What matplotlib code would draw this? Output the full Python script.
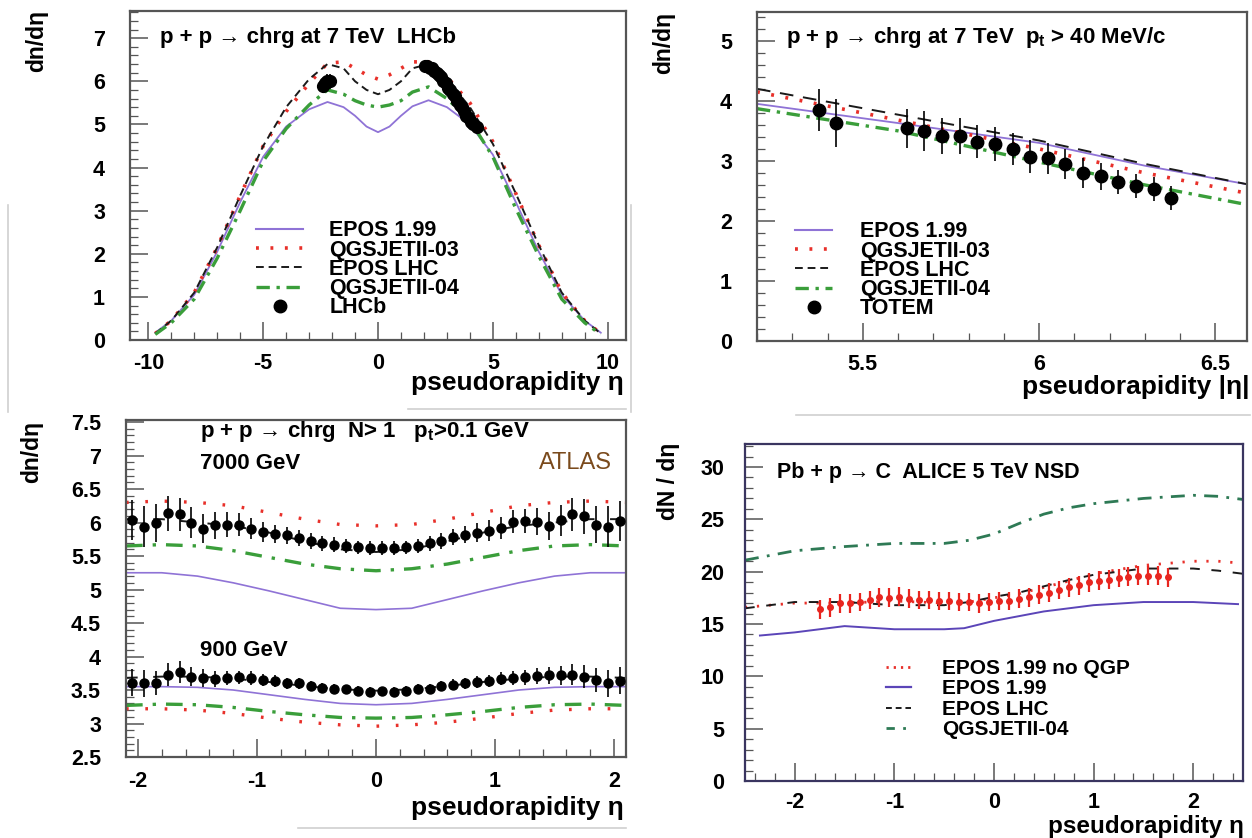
import matplotlib
matplotlib.use("Agg")
import matplotlib.pyplot as plt
import numpy as np
from matplotlib.ticker import MultipleLocator, FuncFormatter
from matplotlib.lines import Line2D

plt.rcParams['font.family'] = ['Liberation Sans', 'DejaVu Sans']
plt.rcParams['font.weight'] = 'bold'
plt.rcParams['axes.unicode_minus'] = False
plt.rcParams['mathtext.fontset'] = 'custom'
plt.rcParams['mathtext.rm'] = 'Liberation Sans:bold'
plt.rcParams['mathtext.it'] = 'Liberation Sans:bold'
plt.rcParams['mathtext.bf'] = 'Liberation Sans:bold'

# ---- panel 1: LHCb 7 TeV ----
eta1 = [-9.7, -9, -8, -7, -6, -5, -4, -3, -2.2, -1.5, -1, -0.5, 0,
        0.5, 1, 1.5, 2.2, 3, 4, 5, 6, 7, 8, 9, 9.7]
epos199_1 = [0.17, 0.45, 1.05, 2.05, 3.2, 4.25, 4.95, 5.35, 5.52, 5.4, 5.2, 4.95, 4.82,
             4.95, 5.2, 5.42, 5.56, 5.4, 5.0, 4.3, 3.2, 2.05, 1.05, 0.45, 0.17]
qgs03_1 = [0.15, 0.45, 1.1, 2.15, 3.35, 4.5, 5.3, 5.95, 6.42, 6.45, 6.3, 6.15, 6.05,
           6.15, 6.3, 6.45, 6.45, 6.1, 5.5, 4.6, 3.4, 2.2, 1.1, 0.45, 0.15]
eposlhc_1 = [0.15, 0.45, 1.1, 2.15, 3.35, 4.5, 5.4, 6.05, 6.4, 6.3, 6.0, 5.8, 5.7,
             5.8, 6.0, 6.3, 6.4, 6.05, 5.4, 4.55, 3.4, 2.2, 1.1, 0.45, 0.15]
qgs04_1 = [0.13, 0.4, 0.95, 1.9, 3.0, 4.15, 4.9, 5.45, 5.8, 5.7, 5.55, 5.45, 5.4,
           5.45, 5.55, 5.75, 5.87, 5.6, 5.1, 4.25, 3.05, 1.95, 0.95, 0.4, 0.13]
lhcb_eta = [-2.4, -2.3, -2.2, -2.1, 2.05, 2.15, 2.25, 2.35, 2.45, 2.55, 2.65, 2.75, 2.85,
            2.95, 3.05, 3.15, 3.25, 3.35, 3.45, 3.55, 3.65, 3.75, 3.85, 3.95, 4.05, 4.15, 4.3]
lhcb_val = [5.9, 5.95, 6.0, 6.0, 6.35, 6.35, 6.3, 6.3, 6.25, 6.2, 6.15, 6.1, 6.0,
            5.95, 5.85, 5.8, 5.7, 5.65, 5.55, 5.45, 5.4, 5.3, 5.2, 5.15, 5.05, 5.0, 4.95]
lhcb_err = [0.18] * 4 + [0.15] * 23

# ---- panel 2: TOTEM ----
eta2 = [5.2, 5.6, 6.0, 6.3, 6.6]
epos199_2 = [3.95, 3.63, 3.3, 2.92, 2.6]
qgs03_2 = [4.15, 3.68, 3.2, 2.8, 2.45]
eposlhc_2 = [4.2, 3.77, 3.34, 2.95, 2.6]
qgs04_2 = [3.87, 3.5, 2.98, 2.6, 2.26]
totem_eta = [5.375, 5.425, 5.625, 5.675, 5.725, 5.775, 5.825, 5.875, 5.925,
             5.975, 6.025, 6.075, 6.125, 6.175, 6.225, 6.275, 6.325, 6.375]
totem_val = [3.85, 3.63, 3.54, 3.5, 3.41, 3.42, 3.32, 3.28, 3.2,
             3.07, 3.04, 2.95, 2.8, 2.74, 2.65, 2.58, 2.53, 2.39]
totem_err = [0.35, 0.4, 0.33, 0.33, 0.3, 0.3, 0.28, 0.28, 0.27,
             0.27, 0.26, 0.25, 0.25, 0.22, 0.2, 0.2, 0.2, 0.2]

# ---- panel 3: ATLAS 7000 / 900 GeV ----
eta3 = [-2.1, -1.8, -1.5, -1.2, -0.9, -0.6, -0.3, 0, 0.3, 0.6, 0.9, 1.2, 1.5, 1.8, 2.1]
epos199_7000 = [5.25, 5.25, 5.2, 5.1, 4.98, 4.85, 4.72, 4.7, 4.72, 4.85, 4.98, 5.1, 5.2, 5.25, 5.25]
qgs04_7000 = [5.65, 5.67, 5.65, 5.58, 5.48, 5.38, 5.31, 5.28, 5.31, 5.38, 5.48, 5.58, 5.65, 5.67, 5.65]
qgs03_7000 = [6.3, 6.32, 6.3, 6.25, 6.15, 6.05, 5.97, 5.95, 5.97, 6.05, 6.15, 6.25, 6.3, 6.32, 6.3]
eposlhc_7000 = [6.05, 6.05, 6.0, 5.95, 5.85, 5.72, 5.6, 5.56, 5.6, 5.72, 5.85, 5.95, 6.0, 6.05, 6.05]
epos199_900 = [3.55, 3.55, 3.54, 3.5, 3.43, 3.36, 3.3, 3.28, 3.3, 3.36, 3.43, 3.5, 3.54, 3.55, 3.55]
qgs04_900 = [3.27, 3.29, 3.28, 3.24, 3.18, 3.13, 3.09, 3.08, 3.09, 3.13, 3.18, 3.24, 3.28, 3.29, 3.27]
qgs03_900 = [3.22, 3.22, 3.2, 3.15, 3.08, 3.02, 2.98, 2.96, 2.98, 3.02, 3.08, 3.15, 3.2, 3.22, 3.22]
eposlhc_900 = [3.68, 3.7, 3.7, 3.67, 3.62, 3.56, 3.51, 3.49, 3.51, 3.56, 3.62, 3.67, 3.7, 3.7, 3.68]
atlas_eta = [-2.05, -1.95, -1.85, -1.75, -1.65, -1.55, -1.45, -1.35, -1.25, -1.15, -1.05,
             -0.95, -0.85, -0.75, -0.65, -0.55, -0.45, -0.35, -0.25, -0.15, -0.05,
             0.05, 0.15, 0.25, 0.35, 0.45, 0.55, 0.65, 0.75, 0.85, 0.95,
             1.05, 1.15, 1.25, 1.35, 1.45, 1.55, 1.65, 1.75, 1.85, 1.95, 2.05]
atlas_7000 = [6.04, 5.94, 5.99, 6.14, 6.12, 6.0, 5.91, 5.96, 5.97, 5.97, 5.91,
              5.86, 5.83, 5.81, 5.77, 5.73, 5.69, 5.67, 5.65, 5.63, 5.62,
              5.62, 5.62, 5.63, 5.65, 5.69, 5.73, 5.78, 5.82, 5.85, 5.88,
              5.92, 6.01, 6.02, 6.01, 5.95, 6.03, 6.12, 6.09, 5.97, 5.94, 6.02]
atlas_7000_err = [0.3, 0.3, 0.28, 0.26, 0.25, 0.23, 0.21, 0.2, 0.18, 0.17, 0.16,
                  0.15, 0.14, 0.13, 0.12, 0.12, 0.11, 0.11, 0.1, 0.1, 0.1,
                  0.1, 0.1, 0.1, 0.11, 0.11, 0.12, 0.12, 0.13, 0.14, 0.15,
                  0.16, 0.17, 0.18, 0.2, 0.21, 0.23, 0.25, 0.26, 0.28, 0.3, 0.3]
atlas_900 = [3.61, 3.6, 3.61, 3.73, 3.77, 3.7, 3.68, 3.67, 3.68, 3.69, 3.68,
             3.65, 3.63, 3.6, 3.6, 3.56, 3.53, 3.52, 3.51, 3.49, 3.47,
             3.48, 3.47, 3.49, 3.52, 3.52, 3.56, 3.58, 3.6, 3.62, 3.63,
             3.67, 3.68, 3.69, 3.71, 3.72, 3.72, 3.73, 3.7, 3.65, 3.6, 3.64]
atlas_900_err = [0.2, 0.2, 0.18, 0.17, 0.16, 0.14, 0.13, 0.12, 0.11, 0.1, 0.1,
                 0.09, 0.09, 0.08, 0.08, 0.08, 0.07, 0.07, 0.07, 0.07, 0.07,
                 0.07, 0.07, 0.07, 0.07, 0.07, 0.08, 0.08, 0.08, 0.09, 0.09,
                 0.1, 0.1, 0.11, 0.12, 0.13, 0.14, 0.16, 0.17, 0.18, 0.2, 0.2]

# ---- panel 4: ALICE p-Pb 5 TeV ----
eta4 = [-2.5, -2.0, -1.5, -1.0, -0.5, -0.25, 0, 0.25, 0.5, 0.75, 1.0, 1.5, 2.0, 2.25, 2.5]
noqgp_4 = [16.6, 17.0, 17.0, 17.2, 17.0, 17.1, 17.5, 17.9, 18.5, 19.1, 19.8, 20.6, 21.0, 21.0, 20.8]
eposlhc_4 = [16.5, 17.1, 17.1, 16.8, 16.8, 17.1, 17.6, 18.0, 18.6, 19.2, 19.7, 20.3, 20.3, 20.1, 19.8]
qgs04_4 = [21.1, 22.0, 22.4, 22.7, 22.7, 23.0, 23.6, 24.6, 25.5, 26.1, 26.5, 27.0, 27.3, 27.2, 26.9]
eta4_epos = [-2.35, -2.0, -1.5, -1.0, -0.5, -0.3, 0, 0.5, 1.0, 1.5, 2.0, 2.45]
epos199_4 = [13.9, 14.2, 14.8, 14.5, 14.5, 14.6, 15.3, 16.2, 16.8, 17.1, 17.1, 16.9]
alice_eta = [-1.75, -1.65, -1.55, -1.45, -1.35, -1.25, -1.15, -1.05, -0.95, -0.85, -0.75, -0.65,
             -0.55, -0.45, -0.35, -0.25, -0.15, -0.05, 0.05, 0.15, 0.25, 0.35, 0.45, 0.55,
             0.65, 0.75, 0.85, 0.95, 1.05, 1.15, 1.25, 1.35, 1.45, 1.55, 1.65, 1.75]
alice_val = [16.4, 16.6, 17.0, 17.0, 17.1, 17.3, 17.55, 17.5, 17.6, 17.4, 17.3, 17.3,
             17.2, 17.2, 17.1, 17.1, 17.0, 17.1, 17.2, 17.2, 17.4, 17.55, 17.8, 18.0,
             18.25, 18.5, 18.7, 19.0, 19.15, 19.25, 19.4, 19.5, 19.6, 19.6, 19.6, 19.45]
alice_err = [0.9] * 36

PURPLE = '#8f73d6'
RED = '#e8302a'
GREEN = '#3a9e3a'
BLACK = '#1a1a1a'
AXC = '#555555'

W, H = 1252, 838
fig = plt.figure(figsize=(W / 100, H / 100), dpi=100)


def add_ax(l, r, t, b):
    return fig.add_axes([l / W, 1 - b / H, (r - l) / W, (b - t) / H])


def ftext(x, y, s, **kw):
    # x, y in pixels from the top-left corner
    return fig.text(x / W, 1 - y / H, s, **kw)


fmt = FuncFormatter(lambda v, p: '%g' % v)


def style(ax, xmaj, xmin, ymaj, ymin, ypad=18, xpad=9, fs=15.5, frame=AXC):
    ax.xaxis.set_major_locator(MultipleLocator(xmaj))
    ax.xaxis.set_minor_locator(MultipleLocator(xmin))
    ax.yaxis.set_major_locator(MultipleLocator(ymaj))
    ax.yaxis.set_minor_locator(MultipleLocator(ymin))
    ax.xaxis.set_major_formatter(fmt)
    ax.yaxis.set_major_formatter(fmt)
    ax.tick_params(which='both', direction='in', top=False, right=False,
                   color=AXC, labelsize=fs)
    ax.tick_params(which='major', length=13, width=1.1)
    ax.tick_params(which='minor', length=6, width=0.9)
    ax.tick_params(axis='y', pad=ypad)
    ax.tick_params(axis='x', pad=xpad)
    for lab in ax.get_xticklabels() + ax.get_yticklabels():
        lab.set_fontweight('bold')
    for s in ax.spines.values():
        s.set_color(frame)
        s.set_linewidth(1.6)


def legend(ax, handles, labels, x, y, hl, htp, fs=15.5, sp=-0.08):
    leg = ax.legend(handles, labels, loc='upper left', bbox_to_anchor=(x, y),
                    frameon=False, borderpad=0, borderaxespad=0, handlelength=hl,
                    handletextpad=htp, labelspacing=sp, numpoints=1,
                    prop={'weight': 'bold', 'size': fs})
    return leg


def h(color, ls, lw, marker=None, ms=0):
    return Line2D([], [], color=color, ls=ls, lw=lw, marker=marker, ms=ms)


TFS = 16  # panel titles

# ================= panel 1 =================
ax1 = add_ax(130, 626, 11, 340)
ax1.plot(eta1, epos199_1, color=PURPLE, lw=1.3, ls='-')
ax1.plot(eta1, qgs03_1, color=RED, lw=2.6, ls=(0, (0.8, 3.2)))
ax1.plot(eta1, eposlhc_1, color=BLACK, lw=1.4, ls=(0, (4, 2.5)))
ax1.plot(eta1, qgs04_1, color=GREEN, lw=2.4, ls=(0, (4, 2, 1, 2)))
ax1.errorbar(lhcb_eta, lhcb_val, yerr=lhcb_err, fmt='o', color='black', ms=8.5,
             elinewidth=1.2, capsize=0, zorder=5)
ax1.set_xlim(-10.8, 10.8)
ax1.set_ylim(0, 7.63)
style(ax1, 5, 1, 1, 0.2)
ftext(160, 37, 'p + p \u2192 chrg at 7 TeV  LHCb', fontsize=TFS, fontweight='bold', va='center')
legend(ax1,
       [h(PURPLE, '-', 1.5), h(RED, (0, (0.8, 3.2)), 2.6), h(BLACK, (0, (4, 2.5)), 1.4),
        h(GREEN, (0, (4, 2, 1, 2)), 2.4), h('black', 'none', 0, 'o', 9)],
       ['EPOS 1.99', 'QGSJETII-03', 'EPOS LHC', 'QGSJETII-04', 'LHCb'],
       0.254, 0.364, 2.2, 1.2)

# ================= panel 2 =================
ax2 = add_ax(757, 1247, 12, 341)
ax2.plot(eta2, epos199_2, color=PURPLE, lw=1.3, ls='-')
ax2.plot(eta2, qgs03_2, color=RED, lw=2.6, ls=(0, (0.8, 3.2)))
ax2.plot(eta2, eposlhc_2, color=BLACK, lw=1.4, ls=(0, (7, 5)))
ax2.plot(eta2, qgs04_2, color=GREEN, lw=2.4, ls=(0, (4, 2, 1, 2)))
ax2.errorbar(totem_eta, totem_val, yerr=totem_err, fmt='o', color='black', ms=9,
             elinewidth=1.2, capsize=0, zorder=5)
ax2.set_xlim(5.2, 6.59)
ax2.set_ylim(0, 5.48)
style(ax2, 0.5, 0.1, 1, 0.2)
ftext(786, 37, 'p + p \u2192 chrg at 7 TeV  $p_t$ > 40 MeV/c', fontsize=TFS,
      fontweight='bold', va='center')
legend(ax2,
       [h(PURPLE, '-', 1.5), h(RED, (0, (0.8, 3.2)), 2.6), h(BLACK, (0, (4, 2.5)), 1.4),
        h(GREEN, (0, (4, 2, 1, 2)), 2.4), h('black', 'none', 0, 'o', 9)],
       ['EPOS 1.99', 'QGSJETII-03', 'EPOS LHC', 'QGSJETII-04', 'TOTEM'],
       0.078, 0.364, 1.7, 1.3)

# ================= panel 3 =================
ax3 = add_ax(126, 626, 420, 757)
for ys in (eposlhc_7000, eposlhc_900):
    ax3.plot(eta3, ys, color=BLACK, lw=1.4, ls=(0, (6, 8)))
for ys in (qgs03_7000, qgs03_900):
    ax3.plot(eta3, ys, color=RED, lw=2.4, ls=(0, (0.8, 5)))
for ys in (qgs04_7000, qgs04_900):
    ax3.plot(eta3, ys, color=GREEN, lw=2.4, ls=(0, (5, 3, 1, 3)))
for ys in (epos199_7000, epos199_900):
    ax3.plot(eta3, ys, color=PURPLE, lw=1.2, ls='-')
ax3.errorbar(atlas_eta, atlas_7000, yerr=atlas_7000_err, fmt='o', color='black', ms=6.5,
             elinewidth=1.2, capsize=0, zorder=5)
ax3.errorbar(atlas_eta, atlas_900, yerr=atlas_900_err, fmt='o', color='black', ms=6.5,
             elinewidth=1.2, capsize=0, zorder=5)
ax3.set_xlim(-2.1, 2.1)
ax3.set_ylim(2.5, 7.53)
style(ax3, 1, 0.2, 0.5, 0.1, xpad=10)
ftext(200, 431, 'p + p \u2192 chrg  N> 1   $p_t$>0.1 GeV', fontsize=TFS,
      fontweight='bold', va='center')
ftext(200, 463, '7000 GeV', fontsize=TFS, fontweight='bold', va='center')
ftext(200, 650, '900 GeV', fontsize=TFS, fontweight='bold', va='center')
ftext(612, 463, 'ATLAS', fontsize=17, fontweight='normal', va='center',
      ha='right', color='#7a4a1c')

# ================= panel 4 =================
ax4 = add_ax(745, 1243, 444, 781)
DGREEN = '#2e7a55'
DPURPLE = '#5b45b8'
ax4.plot(eta4, noqgp_4, color=RED, lw=2.0, ls=(0, (0.8, 3.5)))
ax4.plot(eta4, eposlhc_4, color=BLACK, lw=1.4, ls=(0, (5, 6)))
ax4.plot(eta4_epos, epos199_4, color=DPURPLE, lw=1.4, ls='-')
ax4.plot(eta4, qgs04_4, color=DGREEN, lw=2.0, ls=(0, (5, 3, 1, 3)))
ax4.errorbar(alice_eta, alice_val, yerr=alice_err, fmt='o', color='#e8251f', ms=4,
             elinewidth=1.6, capsize=0, zorder=5)
ax4.set_xlim(-2.5, 2.5)
ax4.set_ylim(0, 32.2)
style(ax4, 1, 0.2, 5, 1, ypad=15, xpad=8, frame='#3a3560')
ftext(777, 472, 'Pb + p \u2192 C  ALICE 5 TeV NSD', fontsize=15.5,
      fontweight='bold', va='center')
legend(ax4,
       [h(RED, (0, (0.8, 1.8)), 2.0), h(DPURPLE, '-', 1.6), h(BLACK, (0, (3, 2)), 1.4),
        h(DGREEN, (0, (3, 3, 1, 3)), 2.0)],
       ['EPOS 1.99 no QGP', 'EPOS 1.99', 'EPOS LHC', 'QGSJETII-04'],
       0.283, 0.362, 1.2, 1.5, fs=15, sp=0.07)

# axis titles (ROOT style, aligned at the ends)
ylab = dict(rotation=90, ha='center', va='top', fontsize=16.5, fontweight='bold')
ftext(37, 10, 'dn/d\u03b7', **ylab)
ftext(664, 12, 'dn/d\u03b7', **ylab)
ftext(32, 421, 'dn/d\u03b7', **ylab)
ftext(669, 443, 'dN / d\u03b7', **ylab)

xlab = dict(ha='right', va='center', fontsize=19, fontweight='bold')
ftext(624, 383, 'pseudorapidity \u03b7', **xlab)
ftext(1249, 387, 'pseudorapidity |\u03b7|', **xlab)
ftext(624, 808, 'pseudorapidity \u03b7', **xlab)
ftext(1244, 826, 'pseudorapidity \u03b7', ha='right', va='center', fontsize=17.5,
      fontweight='bold')

# faint separator lines from the scanned page
sep = dict(color='#d0d0d0', lw=1.2, transform=fig.transFigure)
fig.add_artist(Line2D([8 / W, 8 / W], [1 - 205 / H, 1 - 412 / H], **sep))
fig.add_artist(Line2D([631 / W, 631 / W], [1 - 205 / H, 1 - 412 / H], **sep))
fig.add_artist(Line2D([408 / W, 626 / W], [1 - 409 / H, 1 - 409 / H], **sep))
fig.add_artist(Line2D([796 / W, 1250 / W], [1 - 415 / H, 1 - 415 / H], **sep))
fig.add_artist(Line2D([298 / W, 626 / W], [1 - 828 / H, 1 - 828 / H], **sep))

fig.savefig('out.png', dpi=100)
